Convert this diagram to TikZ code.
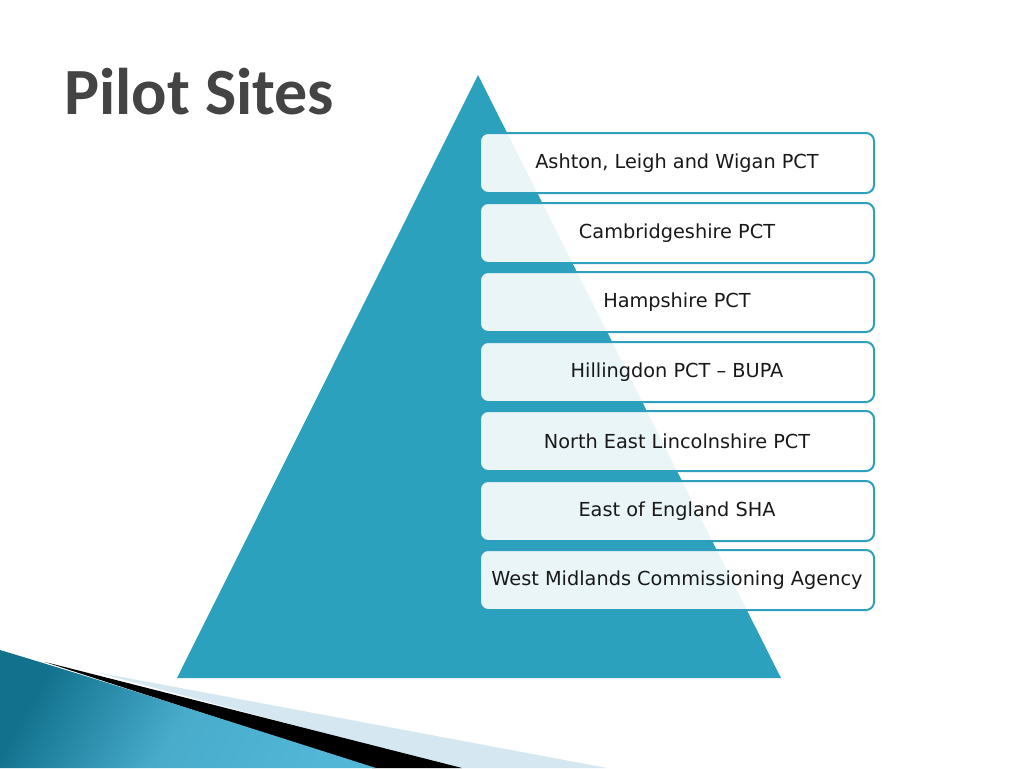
\documentclass[tikz,border=0pt]{standalone}
\usepackage{fontspec}
\setmainfont{DejaVu Sans}
\newfontfamily\titlefont{Carlito}
\definecolor{tri}{HTML}{2CA1BE}
\definecolor{boxline}{HTML}{2E9FBD}
\definecolor{darkteal}{HTML}{12728E}
\definecolor{midteal}{HTML}{52B6D6}
\definecolor{paleblue}{HTML}{D5E8F1}
\definecolor{titlegray}{HTML}{444444}
\tikzset{
  sitebox/.style={draw=boxline, line width=2pt, rounded corners=8pt, fill=white, fill opacity=0.9, text opacity=1,
    minimum width=394pt, minimum height=60pt, inner sep=0pt, font=\fontsize{19.3}{22}\selectfont, text=black!90},
}
\begin{document}
\begin{tikzpicture}[x=1pt,y=-1pt]
\useasboundingbox (0,0) rectangle (1024,768);
\fill[white] (0,0) rectangle (1024,768);
% title
\node[anchor=west, text=titlegray, font=\titlefont\bfseries\fontsize{66}{70}\selectfont, inner sep=0pt] (title) at (64,92) {Pilot Sites};
% triangle
\fill[tri] (478,75) -- (781,678) -- (177,678) -- cycle;
% bottom-left swoosh
\fill[paleblue] (95,672) -- (607,768) -- (455,768) -- cycle;
\fill[black] (45,662) -- (462,768) -- (372,768) -- cycle;
\shade[left color=darkteal, right color=midteal, middle color=midteal!85!darkteal, shading angle=60]
  (0,650) .. controls (120,686) and (250,728) .. (376,768) -- (0,768) -- cycle;
% boxes
\node[sitebox] (b1) at (677,163) {Ashton, Leigh and Wigan PCT};
\node[sitebox] (b2) at (677,233) {Cambridgeshire PCT};
\node[sitebox] (b3) at (677,302) {Hampshire PCT};
\node[sitebox] (b4) at (677,372) {Hillingdon PCT – BUPA};
\node[sitebox] (b5) at (677,441) {North East Lincolnshire PCT};
\node[sitebox] (b6) at (677,511) {East of England SHA};
\node[sitebox] (b7) at (677,580) {West Midlands Commissioning Agency};
\end{tikzpicture}
\end{document}
